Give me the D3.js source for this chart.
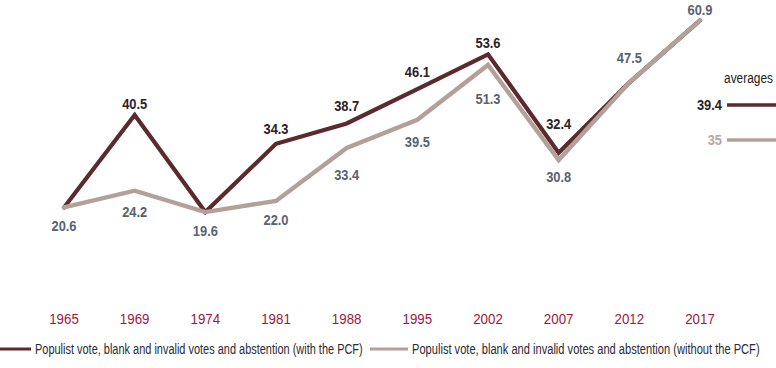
<!DOCTYPE html>
<html>
<head>
<meta charset="utf-8">
<script src="https://cdn.jsdelivr.net/npm/d3@7"></script>
<style>
  html, body { margin: 0; padding: 0; background: #fff; }
  svg text { font-family: "Liberation Sans Narrow", "Arial Narrow", "Liberation Sans", sans-serif; }
</style>
</head>
<body>
<svg id="chart" width="776" height="368"></svg>
<script>
const years = ["1965", "1969", "1974", "1981", "1988", "1995", "2002", "2007", "2012", "2017"];
const withPCF = [20.6, 40.5, 19.6, 34.3, 38.7, 46.1, 53.6, 32.4, 47.5, 60.9];
const withoutPCF = [20.6, 24.2, 19.6, 22.0, 33.4, 39.5, 51.3, 30.8, 47.5, 60.9];
const averageLabels = ["39.4", "35"];
const averageValues = [39.4, 35];
const seriesNames = [
  "Populist vote, blank and invalid votes and abstention (with the PCF)",
  "Populist vote, blank and invalid votes and abstention (without the PCF)"
];

const darkLine = "#5a2a2e";
const lightLine = "#b3a199";
const darkLabel = "#2b2226";
const lightLabel = "#5a6270";
const yearColor = "#a3153f";

const svg = d3.select("#chart");
const x = d3.scalePoint().domain(years).range([64, 700]);
const y = d3.scaleLinear().domain([0, 65]).range([303, 1.4]);

const line = d3.line().x((d, i) => x(years[i])).y(d => y(d));

// place a horizontally condensed text; k = scale factor, or width target via opts.width
function ctext(parent, px, py, txt, opts) {
  const t = parent.append("text").attr("x", 0).attr("y", 0)
    .attr("text-anchor", opts.anchor || "start")
    .attr("font-size", opts.size).attr("font-weight", opts.weight || "normal")
    .attr("fill", opts.color).text(txt);
  let k = opts.k || 1;
  if (opts.width) k = opts.width / t.node().getComputedTextLength();
  t.attr("transform", `translate(${px},${py}) scale(${k},1)`);
  return t;
}

// y of a series' polyline at pixel px (null outside)
function lineYAt(values, px) {
  for (let i = 0; i < values.length - 1; i++) {
    const x0 = x(years[i]), x1 = x(years[i + 1]);
    if (px >= x0 && px <= x1) {
      const t = (px - x0) / (x1 - x0);
      return y(values[i]) + t * (y(values[i + 1]) - y(values[i]));
    }
  }
  return null;
}
function extentY(values, cx, half, fn) {
  const ys = [];
  for (let px = cx - half; px <= cx + half; px++) {
    const v = lineYAt(values, px);
    if (v !== null) ys.push(v);
  }
  return fn(ys);
}

svg.append("path").datum(withPCF).attr("d", line)
  .attr("fill", "none").attr("stroke", darkLine).attr("stroke-width", 4.2)
  .attr("stroke-linejoin", "miter").attr("stroke-linecap", "round");
svg.append("path").datum(withoutPCF).attr("d", line)
  .attr("fill", "none").attr("stroke", lightLine).attr("stroke-width", 4.4)
  .attr("stroke-linejoin", "miter").attr("stroke-linecap", "round");

const labelOpts = c => ({ anchor: "middle", size: 15, weight: "bold", color: c, k: 0.86 });

years.forEach((yr, i) => {
  const d = withPCF[i], l = withoutPCF[i];
  const cx = x(yr);
  if (d !== l) {
    ctext(svg, cx, extentY(withPCF, cx, 13, a => d3.min(a)) - 6, d.toFixed(1), labelOpts(darkLabel));
    ctext(svg, cx, extentY(withoutPCF, cx, 13, a => d3.max(a)) + 22, l.toFixed(1), labelOpts(lightLabel));
  } else {
    const prev = i > 0 ? withoutPCF[i - 1] : null;
    const above = prev !== null && prev < l;
    const by = above
      ? Math.max(extentY(withoutPCF, cx, 13, a => d3.min(a)) - 8, 14.5)
      : extentY(withoutPCF, cx, 13, a => d3.max(a)) + 24;
    ctext(svg, cx, by, l.toFixed(1), labelOpts(lightLabel));
  }
});

// x axis labels
const axisG = svg.append("g");
years.forEach(yr => {
  ctext(axisG, x(yr), 324, yr, { anchor: "middle", size: 15.5, color: yearColor, k: 0.86 });
});

// averages
ctext(svg, 748.5, 83, "averages", { anchor: "middle", size: 14.5, color: "#222", width: 49 });
const ya = d3.scaleLinear().domain([35, 39.4]).range([140, 105]);
const avgColors = [darkLine, lightLine];
const avgTextColors = [darkLabel, "#b8a8a0"];
averageValues.forEach((v, i) => {
  svg.append("line").attr("x1", 727).attr("x2", 776).attr("y1", ya(v)).attr("y2", ya(v))
    .attr("stroke", avgColors[i]).attr("stroke-width", 3.5);
  ctext(svg, 722, ya(v) + 5, averageLabels[i],
    { anchor: "end", size: 15, weight: "bold", color: avgTextColors[i], k: 0.86 });
});

// legend
const legend = svg.append("g");
legend.append("line").attr("x1", 0).attr("x2", 31).attr("y1", 349).attr("y2", 349)
  .attr("stroke", darkLine).attr("stroke-width", 3);
ctext(legend, 35, 354, seriesNames[0], { size: 14.5, color: "#2a2a36", width: 328 });
legend.append("line").attr("x1", 370).attr("x2", 408).attr("y1", 349).attr("y2", 349)
  .attr("stroke", lightLine).attr("stroke-width", 3);
ctext(legend, 412, 354, seriesNames[1], { size: 14.5, color: "#2a2a36", width: 348 });
</script>
</body>
</html>
